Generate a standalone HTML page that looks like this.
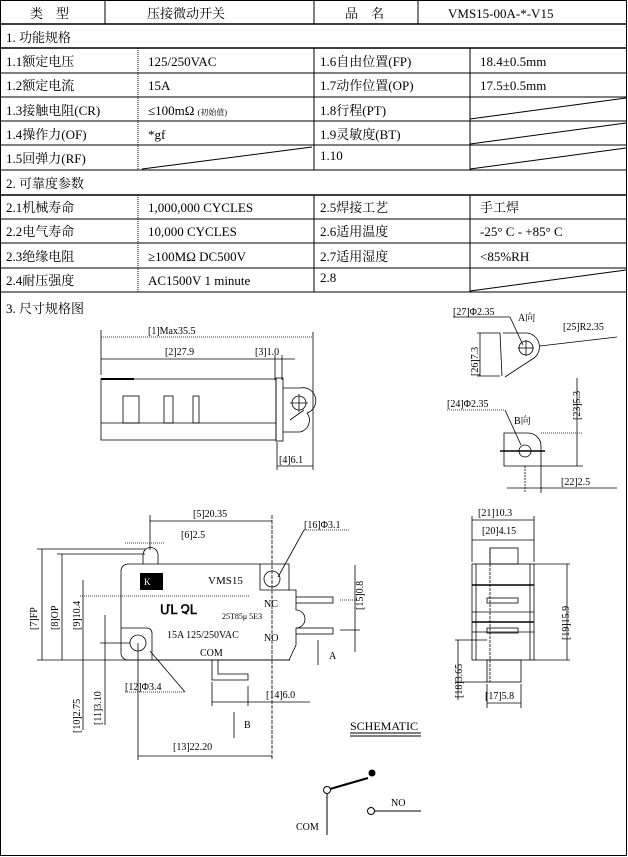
<!DOCTYPE html>
<html><head><meta charset="utf-8"><style>
body{margin:0;background:#fff}
svg{display:block}
text{font-family:"Liberation Serif","Noto Serif CJK SC","Noto Sans CJK SC",serif;fill:#000}
.t{font-size:13px}
.d{font-size:10px}
</style></head><body>
<svg width="628" height="857" viewBox="0 0 628 857" xmlns="http://www.w3.org/2000/svg">
<g stroke="#000" fill="none" stroke-width="1">
<rect x="0.5" y="0.5" width="626" height="855"/>
<line x1="0" y1="24" x2="627" y2="24" stroke-width="1.5"/>
<line x1="0" y1="48" x2="627" y2="48" stroke-width="1.5"/>
<line x1="0" y1="73" x2="627" y2="73"/>
<line x1="0" y1="97" x2="627" y2="97"/>
<line x1="0" y1="121" x2="627" y2="121"/>
<line x1="0" y1="145" x2="627" y2="145"/>
<line x1="0" y1="170" x2="627" y2="170"/>
<line x1="0" y1="195" x2="627" y2="195" stroke-width="1.5"/>
<line x1="0" y1="219" x2="627" y2="219"/>
<line x1="0" y1="243" x2="627" y2="243"/>
<line x1="0" y1="268" x2="627" y2="268"/>
<line x1="0" y1="292" x2="627" y2="292"/>
<line x1="105" y1="0" x2="105" y2="24"/>
<line x1="314" y1="0" x2="314" y2="24"/>
<line x1="418" y1="0" x2="418" y2="24"/>
<line x1="138" y1="48" x2="138" y2="170" stroke-dasharray="1 1"/>
<line x1="314" y1="48" x2="314" y2="170"/>
<line x1="470" y1="48" x2="470" y2="170"/>
<line x1="138" y1="195" x2="138" y2="292" stroke-dasharray="1 1"/>
<line x1="314" y1="195" x2="314" y2="292"/>
<line x1="470" y1="195" x2="470" y2="292"/>
<line x1="470" y1="119" x2="626" y2="98"/>
<line x1="470" y1="144" x2="626" y2="123"/>
<line x1="470" y1="169" x2="626" y2="148"/>
<line x1="142" y1="169" x2="312" y2="147"/>
<line x1="470" y1="291" x2="626" y2="270"/>
</g>
<g class="t">
<text x="30" y="18">类　型</text>
<text x="147" y="18">压接微动开关</text>
<text x="345" y="18">品　名</text>
<text x="448" y="18">VMS15-00A-*-V15</text>
<text x="6" y="42">1. 功能规格</text>
<text x="6" y="66">1.1额定电压</text><text x="148" y="66">125/250VAC</text><text x="320" y="66">1.6自由位置(FP)</text><text x="480" y="66">18.4±0.5mm</text>
<text x="6" y="90">1.2额定电流</text><text x="148" y="90">15A</text><text x="320" y="90">1.7动作位置(OP)</text><text x="480" y="90">17.5±0.5mm</text>
<text x="6" y="115">1.3接触电阻(CR)</text><text x="148" y="115">≤100mΩ <tspan font-size="8">(初始值)</tspan></text><text x="320" y="115">1.8行程(PT)</text>
<text x="6" y="139">1.4操作力(OF)</text><text x="148" y="139">*gf</text><text x="320" y="139">1.9灵敏度(BT)</text>
<text x="6" y="163">1.5回弹力(RF)</text><text x="320" y="160">1.10</text>
<text x="6" y="188">2. 可靠度参数</text>
<text x="6" y="212">2.1机械寿命</text><text x="148" y="212">1,000,000 CYCLES</text><text x="320" y="212">2.5焊接工艺</text><text x="480" y="212">手工焊</text>
<text x="6" y="236">2.2电气寿命</text><text x="148" y="236">10,000  CYCLES</text><text x="320" y="236">2.6适用温度</text><text x="480" y="236">-25° C - +85° C</text>
<text x="6" y="261">2.3绝缘电阻</text><text x="148" y="261">≥100MΩ DC500V</text><text x="320" y="261">2.7适用湿度</text><text x="480" y="261">&lt;85%RH</text>
<text x="6" y="285">2.4耐压强度</text><text x="148" y="285">AC1500V 1 minute</text><text x="320" y="282">2.8</text>
<text x="6" y="313">3. 尺寸规格图</text>
</g>
<!-- side view -->
<g stroke="#000" fill="none" stroke-width="0.8">
<line x1="101" y1="330" x2="101" y2="375"/><line x1="313" y1="332" x2="313" y2="470"/>
<line x1="101" y1="337" x2="313" y2="337" stroke-dasharray="1 1"/>
<line x1="101" y1="359" x2="295" y2="359"/>
<line x1="275" y1="355" x2="275" y2="380"/><line x1="282" y1="355" x2="282" y2="380"/>
<path d="M101 379H276V440H101Z"/><line x1="101" y1="379" x2="134" y2="379" stroke-width="2"/>
<line x1="101" y1="423" x2="276" y2="423"/>
<rect x="123" y="396" width="16" height="27"/><rect x="164" y="396" width="9" height="27"/><rect x="193" y="396" width="6" height="27"/>
<rect x="276" y="378" width="7" height="63"/>
<path d="M283 388H300A13 13 0 0 1 307 413A12 12 0 0 1 300 432H283"/>
<path d="M290 420L304 410"/>
<circle cx="299" cy="403" r="7"/><line x1="290" y1="403" x2="308" y2="403"/><line x1="299" y1="394" x2="299" y2="412"/>
<line x1="277" y1="442" x2="277" y2="470"/><line x1="277" y1="466" x2="313" y2="466"/>
</g>
<g class="d">
<text x="148" y="334">[1]Max35.5</text><text x="165" y="355">[2]27.9</text><text x="255" y="355">[3]1.0</text><text x="279" y="463">[4]6.1</text>
<text x="453" y="315">[27]Φ2.35</text><text x="518" y="321">A向</text><text x="563" y="330">[25]R2.35</text>
<text x="447" y="407">[24]Φ2.35</text><text x="514" y="424">B向</text><text x="561" y="485">[22]2.5</text>
<text transform="translate(478,376) rotate(-90)">[26]7.3</text>
<text transform="translate(580,420) rotate(-90)">[23]5.3</text>
</g>
<g stroke="#000" fill="none" stroke-width="0.8">
<line x1="453" y1="317" x2="510" y2="317"/><line x1="510" y1="317" x2="523" y2="345"/>
<line x1="477" y1="333" x2="500" y2="333"/><line x1="477" y1="376" x2="500" y2="376"/><line x1="480" y1="333" x2="480" y2="376"/>
<path d="M500 333L502 376M503 333H527A14 14 0 0 1 534 358L505 377"/>
<circle cx="526" cy="348" r="7"/><line x1="518" y1="348" x2="534" y2="348"/><line x1="526" y1="340" x2="526" y2="356"/>
<line x1="540" y1="346" x2="617" y2="337"/>
<line x1="447" y1="410" x2="505" y2="410" stroke-dasharray="1 1"/><line x1="505" y1="410" x2="521" y2="445"/>
<path d="M504 433H528A13 13 0 0 1 541 446V466H504Z"/>
<circle cx="525" cy="451" r="6"/><line x1="500" y1="451" x2="545" y2="451" stroke-width="1.5"/>
<line x1="525" y1="466" x2="525" y2="493" stroke-dasharray="2 1"/><line x1="541" y1="466" x2="541" y2="493"/>
<line x1="507" y1="488" x2="617" y2="488"/>
<line x1="541" y1="433" x2="583" y2="433" stroke-dasharray="1 1"/><line x1="541" y1="466" x2="583" y2="466"/>
<line x1="577" y1="378" x2="577" y2="466"/>
</g>
<!-- front view -->
<g stroke="#000" fill="none" stroke-width="0.8">
<path d="M128 564H289V590H296V597"/>
<path d="M296 634V645L289 660H128A7 7 0 0 1 121 653V571A7 7 0 0 1 128 564"/>
<path d="M296 603V610A4 4 0 0 1 296 628"/>
<line x1="37" y1="660" x2="290" y2="660"/>
<path d="M143 564V555A7 7 0 0 1 158 555V564"/>
<line x1="260" y1="564" x2="260" y2="590"/><line x1="260" y1="590" x2="289" y2="590"/>
<circle cx="272" cy="579" r="8"/>
<rect x="296" y="597" width="37" height="6"/><rect x="296" y="628" width="37" height="6"/>
<path d="M121 628H147A5 5 0 0 1 152 633V660"/>
<circle cx="138" cy="643" r="8"/>
<path d="M212 660V680H248V674H218V660"/>
<line x1="42" y1="549" x2="42" y2="660"/><line x1="37" y1="549" x2="145" y2="549"/>
<line x1="62" y1="554" x2="62" y2="660"/><line x1="57" y1="554" x2="145" y2="554"/>
<line x1="83" y1="580" x2="83" y2="730"/><line x1="80" y1="596" x2="250" y2="596" stroke-dasharray="1 1"/>
<line x1="105" y1="615" x2="105" y2="725"/><line x1="100" y1="643" x2="130" y2="643"/>
<line x1="150" y1="515" x2="150" y2="550"/><line x1="150" y1="521" x2="272" y2="521"/>
<line x1="125" y1="543" x2="165" y2="543" stroke-dasharray="1 1"/>
<line x1="272" y1="515" x2="272" y2="760" stroke-dasharray="4 1"/>
<line x1="304" y1="530" x2="350" y2="530" stroke-dasharray="1 1"/><line x1="304" y1="530" x2="278" y2="577"/>
<line x1="355" y1="565" x2="355" y2="652"/><line x1="340" y1="600" x2="358" y2="600" stroke-dasharray="1 1"/><line x1="340" y1="630" x2="360" y2="630"/>
<line x1="318" y1="640" x2="318" y2="665"/>
<line x1="212" y1="682" x2="212" y2="706"/><line x1="248" y1="686" x2="248" y2="706"/><line x1="212" y1="702" x2="310" y2="702"/>
<line x1="234" y1="712" x2="234" y2="738"/>
<line x1="138" y1="643" x2="138" y2="760"/><line x1="138" y1="756" x2="272" y2="756"/>
<line x1="125" y1="692" x2="185" y2="692" stroke-dasharray="1 1"/><line x1="185" y1="692" x2="150" y2="651"/>
</g>
<rect x="140" y="573" width="23" height="17" fill="#000"/>
<text x="144" y="585" font-size="9" style="fill:#fff">K</text>
<g class="d">
<text x="208" y="584" font-family="Liberation Sans" font-size="11">VMS15</text>
<text x="264" y="607">NC</text><text x="264" y="641">NO</text>
<text x="160" y="614" font-size="13" font-weight="bold">ՄԼ  ՉԼ</text>
<text x="222" y="619" font-size="8">25T85μ 5E3</text>
<text x="167" y="638" font-family="Liberation Sans">15A 125/250VAC</text>
<text x="200" y="656">COM</text>
<text x="193" y="517">[5]20.35</text><text x="181" y="538">[6]2.5</text><text x="304" y="528">[16]Φ3.1</text>
<text x="329" y="659">A</text><text x="266" y="698">[14]6.0</text><text x="244" y="728">B</text>
<text x="173" y="750">[13]22.20</text><text x="125" y="690">[12]Φ3.4</text>
<text transform="translate(37,630) rotate(-90)">[7]FP</text>
<text transform="translate(58,630) rotate(-90)">[8]OP</text>
<text transform="translate(80,630) rotate(-90)">[9]10.4</text>
<text transform="translate(80,733) rotate(-90)">[10]2.75</text>
<text transform="translate(101,725) rotate(-90)">[11]3.10</text>
<text transform="translate(363,610) rotate(-90)">[15]0.8</text>
<text x="478" y="516">[21]10.3</text><text x="482" y="534">[20]4.15</text><text x="485" y="699">[17]5.8</text>
<text transform="translate(569,640) rotate(-90)">[19]15.9</text>
<text transform="translate(462,698) rotate(-90)">[18]3.65</text>
</g>
<!-- right view -->
<g stroke="#000" fill="none" stroke-width="0.8">
<rect x="472" y="564" width="62" height="96"/>
<line x1="476" y1="564" x2="476" y2="660"/><line x1="530" y1="564" x2="530" y2="660"/>
<rect x="490" y="548" width="28" height="16"/>
<rect x="487" y="660" width="34" height="22"/>
<line x1="472" y1="585" x2="534" y2="585" stroke-width="1.5"/><line x1="472" y1="622" x2="534" y2="622" stroke-width="1.5"/>
<line x1="472" y1="612" x2="534" y2="612"/><line x1="472" y1="632" x2="534" y2="632"/>
<rect x="487" y="598" width="31" height="5"/><rect x="487" y="628" width="31" height="5"/>
<line x1="490" y1="548" x2="490" y2="682" stroke-dasharray="3 1"/>
<line x1="472" y1="516" x2="472" y2="562"/><line x1="534" y1="516" x2="534" y2="562"/>
<line x1="472" y1="520" x2="534" y2="520"/><line x1="472" y1="540" x2="534" y2="540"/>
<line x1="534" y1="564" x2="570" y2="564"/><line x1="534" y1="660" x2="570" y2="660"/><line x1="567" y1="564" x2="567" y2="660"/>
<line x1="455" y1="640" x2="487" y2="640"/><line x1="455" y1="682" x2="487" y2="682"/><line x1="458" y1="640" x2="458" y2="700"/>
<line x1="487" y1="684" x2="487" y2="708"/><line x1="521" y1="684" x2="521" y2="708"/><line x1="487" y1="703" x2="521" y2="703"/>
</g>
<!-- schematic -->
<text x="350" y="730" font-size="12" style="font-family:'Liberation Serif',serif">SCHEMATIC</text>
<line x1="350" y1="733" x2="421" y2="733" stroke="#000"/><line x1="350" y1="736" x2="421" y2="736" stroke="#000"/>
<g stroke="#000" fill="none">
<line x1="327" y1="793" x2="327" y2="835"/>
<line x1="330" y1="789" x2="368" y2="778" stroke-width="2"/>
<circle cx="327" cy="790" r="3.5" fill="#fff"/>
<circle cx="371" cy="811" r="3.5" fill="#fff"/><line x1="374" y1="811" x2="421" y2="811"/>
</g>
<circle cx="372" cy="773" r="3.5" fill="#000"/>
<text x="391" y="806" font-size="10">NO</text><text x="296" y="830" font-size="10">COM</text>
</svg>
</body></html>
